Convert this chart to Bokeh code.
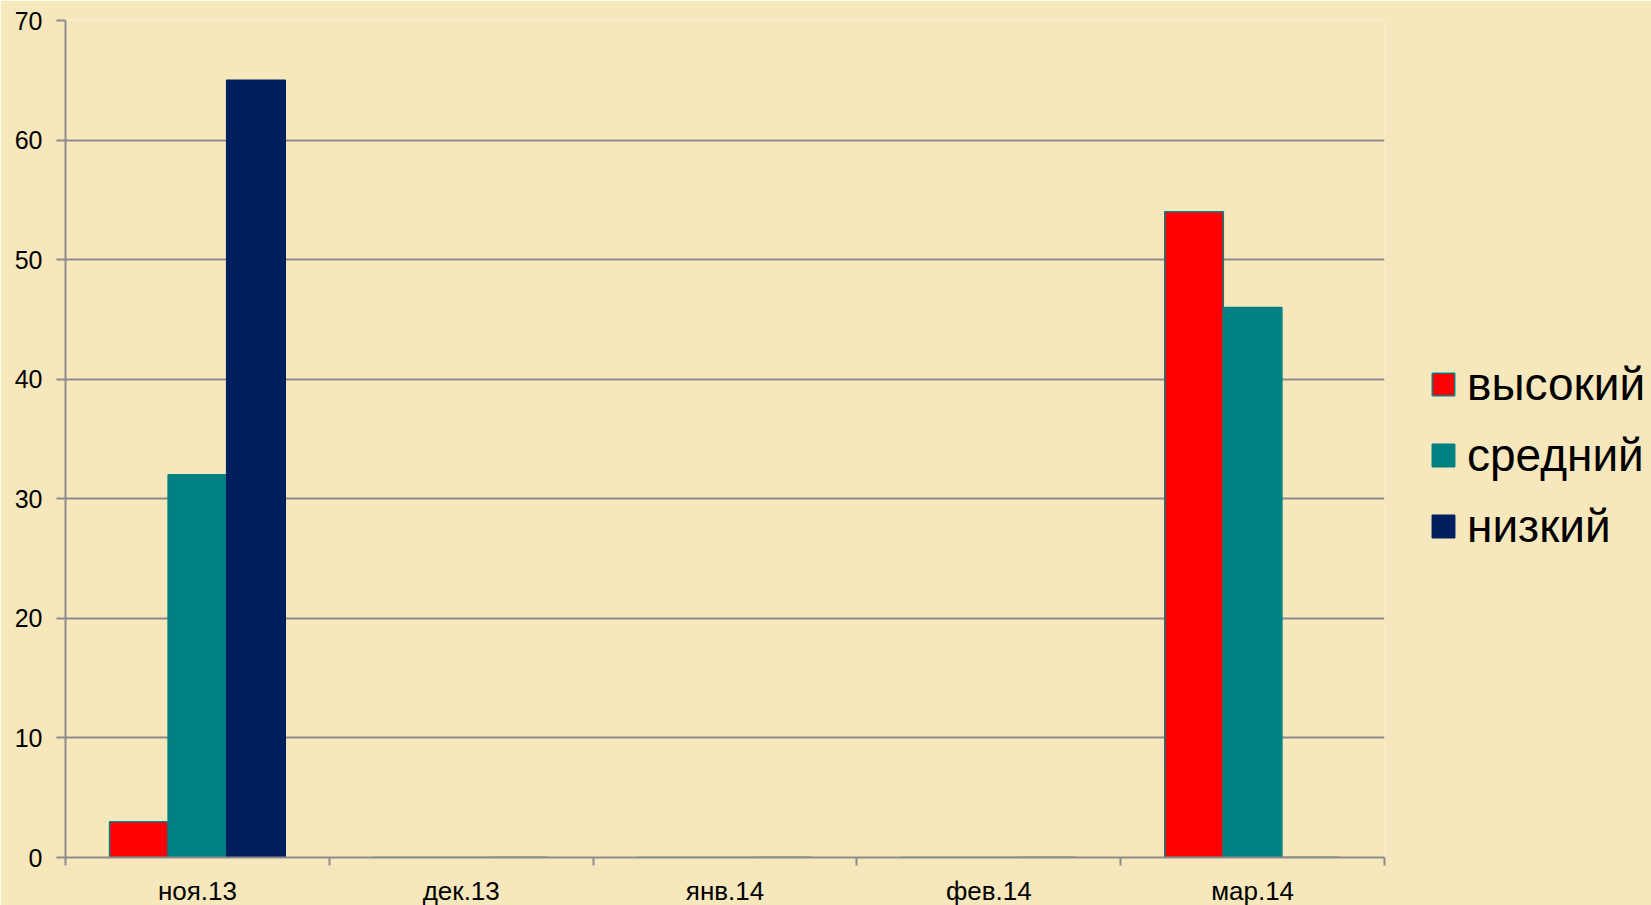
from bokeh.plotting import figure
from bokeh.models import (Range1d, FixedTicker, Legend, LegendItem, ColumnDataSource)
from bokeh.embed import file_html
from bokeh.resources import INLINE
import numpy as np

months = ["ноя.13", "дек.13", "янв.14", "фев.14", "мар.14"]
series_names = ["высокий", "средний", "низкий"]
high = [3, 0, 0, 0, 54]
mid = [32, 0, 0, 0, 46]
low = [65, 0, 0, 0, 0]
y_ticks = [0, 10, 20, 30, 40, 50, 60, 70]

colors = ["#FF0000", "#008080", "#001F5F"]
lines = ["#008080", "#008080", "#001F5F"]
BG = "#F6E8BC"

centers = np.arange(len(months)) + 0.5
bw = 0.222
offsets = [-bw, 0.0, bw]

p = figure(frame_width=1319, frame_height=837,
           min_border_left=65, min_border_top=20, min_border_right=259, min_border_bottom=46,
           x_range=Range1d(0, len(months)), y_range=Range1d(0, 70),
           output_backend="svg", toolbar_location=None)
p.background_fill_color = BG
p.border_fill_color = BG
p.outline_line_color = None

renderers = []
for vals, off, c, lc in zip([high, mid, low], offsets, colors, lines):
    src = ColumnDataSource(dict(x=centers + off, top=vals))
    r = p.vbar(x="x", top="top", width=bw, source=src, fill_color=c,
               line_color=lc, line_width=1.5)
    renderers.append(r)

# grid
p.xgrid.visible = False
p.ygrid.ticker = FixedTicker(ticks=y_ticks)
p.ygrid.grid_line_color = "#8C8C8C"
p.ygrid.grid_line_width = 2

# y axis
yax = p.yaxis[0]
yax.ticker = FixedTicker(ticks=y_ticks)
yax.axis_line_color = "#8C8C8C"
yax.axis_line_width = 2
yax.major_tick_line_color = "#8C8C8C"
yax.major_tick_line_width = 2
yax.major_tick_out = 9
yax.major_tick_in = 0
yax.minor_tick_line_color = None
yax.major_label_text_font = "Liberation Sans"
yax.major_label_text_font_size = "25px"
yax.major_label_text_color = "#000000"
yax.major_label_standoff = 14

# x axis: labels at category centers, ticks at boundaries (minor ticks)
xax = p.xaxis[0]
xax.ticker = FixedTicker(ticks=list(centers), minor_ticks=list(range(len(months) + 1)))
xax.major_label_overrides = {float(c): m for c, m in zip(centers, months)}
xax.axis_line_color = "#8C8C8C"
xax.axis_line_width = 2
xax.major_tick_line_color = None
xax.major_tick_out = 0
xax.major_tick_in = 0
xax.minor_tick_line_color = "#8C8C8C"
xax.minor_tick_line_width = 2
xax.minor_tick_out = 8
xax.minor_tick_in = 0
xax.major_label_text_font = "Liberation Sans"
xax.major_label_text_font_size = "26px"
xax.major_label_text_color = "#000000"
xax.major_label_standoff = 10

legend = Legend(items=[LegendItem(label=n, renderers=[r]) for n, r in zip(series_names, renderers)],
                location=(45, 304))
legend.background_fill_alpha = 0
legend.border_line_color = None
legend.label_text_font = "Liberation Sans"
legend.label_text_font_size = "46px"
legend.label_text_color = "#000000"
legend.glyph_width = 28
legend.glyph_height = 28
legend.label_standoff = 10
legend.spacing = 17
legend.padding = 0
legend.margin = 0
p.add_layout(legend, "right")

html = file_html(p, INLINE)
html = html.replace("<body>", '<body style="background:%s">' % BG, 1)
open("out.html", "w").write(html)
